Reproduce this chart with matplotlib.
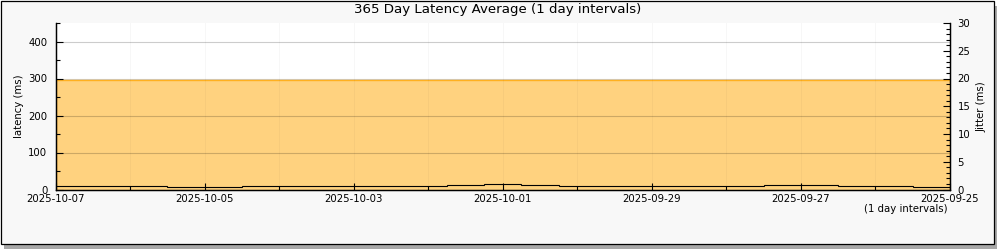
import matplotlib
matplotlib.use('Agg')
import matplotlib.pyplot as plt
import matplotlib.dates as mdates
from matplotlib.patches import Rectangle
from matplotlib.ticker import MultipleLocator
import pandas as pd

# ============================================
# DADOS
# ============================================

# latencia media (ms), degraus entre as datas
lat_edges = ['2025-09-25 00:00', '2025-09-27 12:00', '2025-09-28 12:00', '2025-10-07 00:00']
lat_ms = [297, 295, 297]

# jitter (ms), degraus entre as datas
jit_edges = ['2025-09-25 00:00', '2025-09-25 12:00', '2025-09-26 12:00', '2025-09-27 12:00',
             '2025-09-30 06:00', '2025-09-30 18:00', '2025-10-01 06:00', '2025-10-01 18:00',
             '2025-10-04 12:00', '2025-10-05 12:00', '2025-10-07 00:00']
jit_ms = [0.45, 0.63, 0.81, 0.63, 0.81, 0.99, 0.81, 0.63, 0.45, 0.63]

dia_ini = '2025-10-07'
dia_fim = '2025-09-25'

titulo = '365 Day Latency Average (1 day intervals)'

# ============================================
# GRAFICO
# ============================================

plt.rcParams['font.family'] = 'DejaVu Sans'
fs = 7.3

fig = plt.figure(figsize=(10, 2.5), dpi=100, facecolor='white')

# moldura com sombra
fig.patches.append(Rectangle((4, 1), 993, 243, transform=None, facecolor='#a8a8a8',
                             edgecolor='none', zorder=-3))
fig.patches.append(Rectangle((1, 6), 993, 243, transform=None, facecolor='#f8f8f8',
                             edgecolor='black', linewidth=0.9, zorder=-2))

ax = fig.add_axes([0.0557, 0.242, 0.8943, 0.666])
ax.set_facecolor('white')

x_lat = mdates.date2num(pd.to_datetime(lat_edges))
x_jit = mdates.date2num(pd.to_datetime(jit_edges))

ax.stairs(lat_ms, x_lat, fill=True, color='#ffd27f', zorder=1)
ax.stairs(lat_ms, x_lat, color='#ffb020', linewidth=1.0, zorder=2)

ax.set_ylim(0, 450)
ax.set_xlim(mdates.date2num(pd.Timestamp(dia_ini)), mdates.date2num(pd.Timestamp(dia_fim)))

ax2 = ax.twinx()
ax2.stairs(jit_ms, x_jit, color='black', linewidth=0.8, baseline=None, zorder=3)
ax2.set_ylim(0, 30)

# grades
for v in [100, 200, 300, 400]:
    ax.axhline(v, color='black', alpha=0.2, linewidth=0.8, zorder=1.5)
ax.xaxis.set_major_locator(mdates.DayLocator(interval=2))
ax.xaxis.set_minor_locator(mdates.DayLocator())
ax.xaxis.set_major_formatter(mdates.DateFormatter('%Y-%m-%d'))
ax.grid(True, axis='x', which='both', color='black', alpha=0.03, linewidth=0.8)
ax.set_axisbelow(False)

ax.yaxis.set_major_locator(MultipleLocator(100))
ax.yaxis.set_minor_locator(MultipleLocator(50))
ax2.yaxis.set_major_locator(MultipleLocator(5))
ax2.yaxis.set_minor_locator(MultipleLocator(1))

for a in [ax, ax2]:
    a.spines['top'].set_visible(False)
    for s in a.spines.values():
        s.set_linewidth(0.9)
    a.tick_params(which='major', direction='in', length=5, width=0.8, labelsize=fs)
    a.tick_params(which='minor', direction='in', length=3, width=0.8)

ax.tick_params(axis='x', pad=3.5)
ax.tick_params(axis='y', pad=6)
ax2.tick_params(axis='y', pad=5.5)
ax.set_ylabel('latency (ms)', fontsize=fs, labelpad=3)
ax2.set_ylabel('Jitter (ms)', fontsize=fs, labelpad=4)

fig.text(0.498, 1 - 10 / 250, titulo, ha='center', va='center', fontsize=9.6)
fig.text(0.948, 1 - 209 / 250, '(1 day intervals)', ha='right', va='center', fontsize=fs)

plt.savefig('out.png', dpi=100, facecolor=fig.get_facecolor())
